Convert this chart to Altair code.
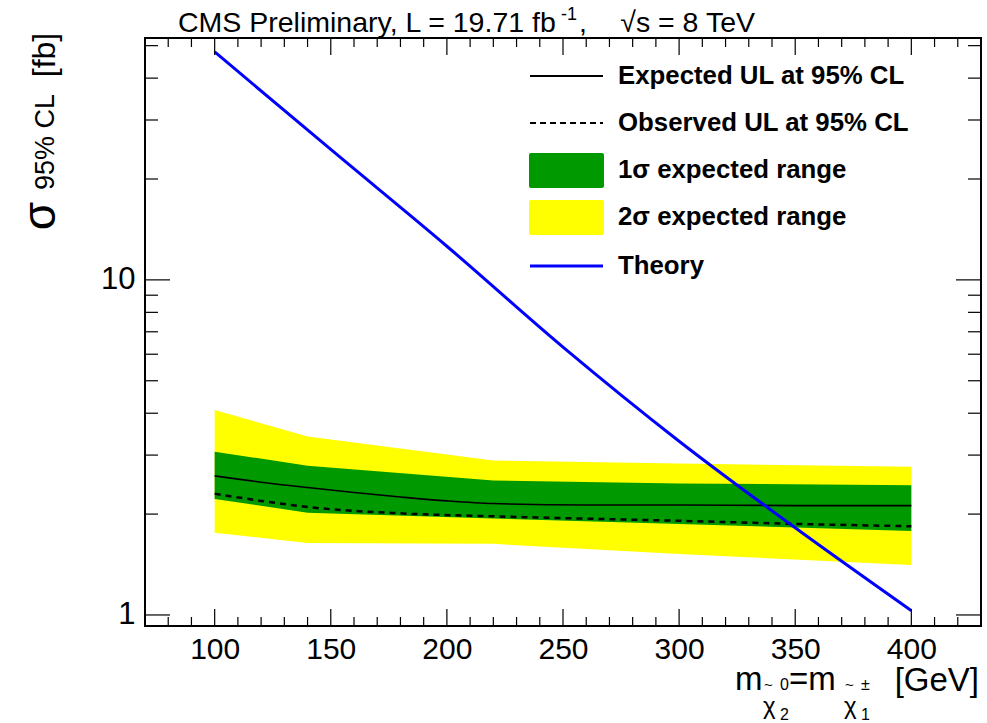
import altair as alt
import pandas as pd

# ---------------- data ----------------
band_mass = [100, 140, 220, 300, 400]
two_sigma_lo = [1.76, 1.64, 1.63, 1.52, 1.41]
two_sigma_hi = [4.09, 3.41, 2.89, 2.83, 2.77]
one_sigma_lo = [2.22, 2.02, 1.94, 1.87, 1.78]
one_sigma_hi = [3.07, 2.79, 2.52, 2.47, 2.44]

exp_mass = [100, 120, 140, 160, 180, 200, 220, 260, 300, 350, 400]
expected = [2.60, 2.49, 2.40, 2.32, 2.25, 2.19, 2.15, 2.13, 2.13, 2.12, 2.12]

obs_mass = [100, 120, 140, 180, 220, 300, 350, 400]
observed = [2.30, 2.19, 2.10, 2.01, 1.97, 1.91, 1.87, 1.84]

theory_mass = [100, 150, 200, 250, 300, 350, 400]
theory = [47.9, 24.5, 12.6, 6.3, 3.3, 1.82, 1.03]

x_major = [100, 150, 200, 250, 300, 350, 400]
x_minor = [m for m in range(80, 430, 10) if m not in x_major]
y_major = [1, 10]
y_minor = [2, 3, 4, 5, 6, 7, 8, 9, 20, 30, 40, 50]

# ---------------- layout ----------------
W, H = 836, 588
FONT = "Liberation Sans"
xs = alt.Scale(domain=[70, 430], nice=False, zero=False)
ys = alt.Scale(type="log", domain=[0.927, 52.7], nice=False)

bands = pd.DataFrame({"m": band_mass, "lo2": two_sigma_lo, "hi2": two_sigma_hi,
                      "lo1": one_sigma_lo, "hi1": one_sigma_hi})
exp_df = pd.DataFrame({"m": exp_mass, "v": expected})
obs_df = pd.DataFrame({"m": obs_mass, "v": observed})
th_df = pd.DataFrame({"m": theory_mass, "v": theory})

xaxis = alt.Axis(values=x_major, tickSize=0, domain=False, grid=False, title=None,
                 labelFontSize=30, labelFont=FONT, labelColor="black", labelPadding=8,
                 labelFlush=False)
yaxis = alt.Axis(values=y_major, tickSize=0, domain=False, grid=False, title=None,
                 labelFontSize=31, labelFont=FONT, labelColor="black", labelPadding=10,
                 labelFlush=False, format="d")

def X(field):
    return alt.X(field, scale=xs, axis=xaxis)

def Y(field):
    return alt.Y(field, scale=ys, axis=yaxis)

yellow = alt.Chart(bands).mark_area(color="#ffff00", opacity=1).encode(
    x=X("m:Q"), y=Y("lo2:Q"), y2="hi2:Q")
green = alt.Chart(bands).mark_area(color="#009900", opacity=1).encode(
    x=X("m:Q"), y=Y("lo1:Q"), y2="hi1:Q")
exp_line = alt.Chart(exp_df).mark_line(color="black", strokeWidth=1.6, interpolate="monotone").encode(
    x=X("m:Q"), y=Y("v:Q"))
obs_line = alt.Chart(obs_df).mark_line(color="black", strokeWidth=2.5, strokeDash=[6, 5],
                                       interpolate="monotone").encode(
    x=X("m:Q"), y=Y("v:Q"))
th_line = alt.Chart(th_df).mark_line(color="#0000ff", strokeWidth=3, interpolate="monotone").encode(
    x=X("m:Q"), y=Y("v:Q"))

def xticks(vals, length):
    d = pd.DataFrame({"t": vals})
    bot = alt.Chart(d).mark_rule(color="black", strokeWidth=1.2).encode(
        x=X("t:Q"), y=alt.value(H), y2=alt.value(H - length))
    top = alt.Chart(d).mark_rule(color="black", strokeWidth=1.2).encode(
        x=X("t:Q"), y=alt.value(0), y2=alt.value(length))
    return [bot, top]

def yticks(vals, length):
    d = pd.DataFrame({"t": vals})
    left = alt.Chart(d).mark_rule(color="black", strokeWidth=1.2).encode(
        y=Y("t:Q"), x=alt.value(0), x2=alt.value(length))
    right = alt.Chart(d).mark_rule(color="black", strokeWidth=1.2).encode(
        y=Y("t:Q"), x=alt.value(W), x2=alt.value(W - length))
    return [left, right]

ticks = xticks(x_major, 17) + xticks(x_minor, 9) + yticks(y_major, 25) + yticks(y_minor, 13)

one = alt.Data(values=[{"a": 1}])
OX, OY = 145, 38  # plot origin in page pixels

def txt(s, x, y, size, align="left", baseline="alphabetic", bold=False, angle=None):
    kw = dict(text=s, font=FONT, fontSize=size, align=align, baseline=baseline,
              color="black", fontWeight="bold" if bold else "normal")
    if angle is not None:
        kw["angle"] = angle
    return alt.Chart(one).mark_text(**kw).encode(x=alt.value(x - OX), y=alt.value(y - OY))

def hrule(x1, x2, y, color, width, dash=None):
    kw = dict(color=color, strokeWidth=width)
    if dash:
        kw["strokeDash"] = dash
    return alt.Chart(one).mark_rule(**kw).encode(
        x=alt.value(x1 - OX), x2=alt.value(x2 - OX), y=alt.value(y - OY))

def box(x1, x2, y1, y2, color):
    return alt.Chart(one).mark_rect(color=color, cornerRadius=2).encode(
        x=alt.value(x1 - OX), x2=alt.value(x2 - OX), y=alt.value(y1 - OY), y2=alt.value(y2 - OY))

LF = 25.8
legend = [
    hrule(530, 603, 76, "black", 2),
    txt("Expected UL at 95% CL", 618, 76, LF, baseline="middle", bold=True),
    hrule(530, 603, 123, "black", 2, dash=[6, 4]),
    txt("Observed UL at 95% CL", 618, 123, LF, baseline="middle", bold=True),
    box(529, 604, 153, 188, "#009900"),
    txt("1σ expected range", 618, 170, LF, baseline="middle", bold=True),
    box(529, 604, 200, 235, "#ffff00"),
    txt("2σ expected range", 618, 217, LF, baseline="middle", bold=True),
    hrule(530, 603, 266, "#0000ff", 3),
    txt("Theory", 618, 266, LF, baseline="middle", bold=True),
]

title = [
    txt("CMS Preliminary, L = 19.71 fb", 178, 32, 28.5),
    txt("-1", 561, 20, 18),
    txt(",", 579, 32, 28.5),
    txt("√s = 8 TeV", 755, 32, 28.5, align="right"),
]

ytitle = [
    txt("σ", 41, 216, 46, align="center", baseline="middle", angle=270),
    txt("95% CL", 46, 142, 27, align="center", baseline="middle", angle=270),
    txt("[fb]", 45, 55, 32, align="center", baseline="middle", angle=270),
]

xtitle = [
    txt("m", 735, 690, 33),
    txt("χ", 763, 714, 24),
    txt("~", 764, 690, 15),
    txt("0", 780, 690, 16),
    txt("2", 780, 720, 16),
    txt("=m", 789, 690, 33),
    txt("χ", 844, 714, 24),
    txt("~", 845, 690, 15),
    txt("±", 861, 690, 16),
    txt("1", 861, 720, 16),
    txt("[GeV]", 979, 691, 33, align="right"),
]

chart = alt.layer(yellow, green, exp_line, obs_line, th_line, *ticks,
                  *legend, *title, *ytitle, *xtitle).properties(
    width=W, height=H,
    autosize=alt.AutoSizeParams(type="none"),
    padding={"left": OX, "top": OY, "right": 987 - OX - W, "bottom": 723 - OY - H},
    background="white",
).configure_view(stroke="black", strokeWidth=2)

chart.save("out.html", embed_options={"renderer": "svg", "actions": False})
